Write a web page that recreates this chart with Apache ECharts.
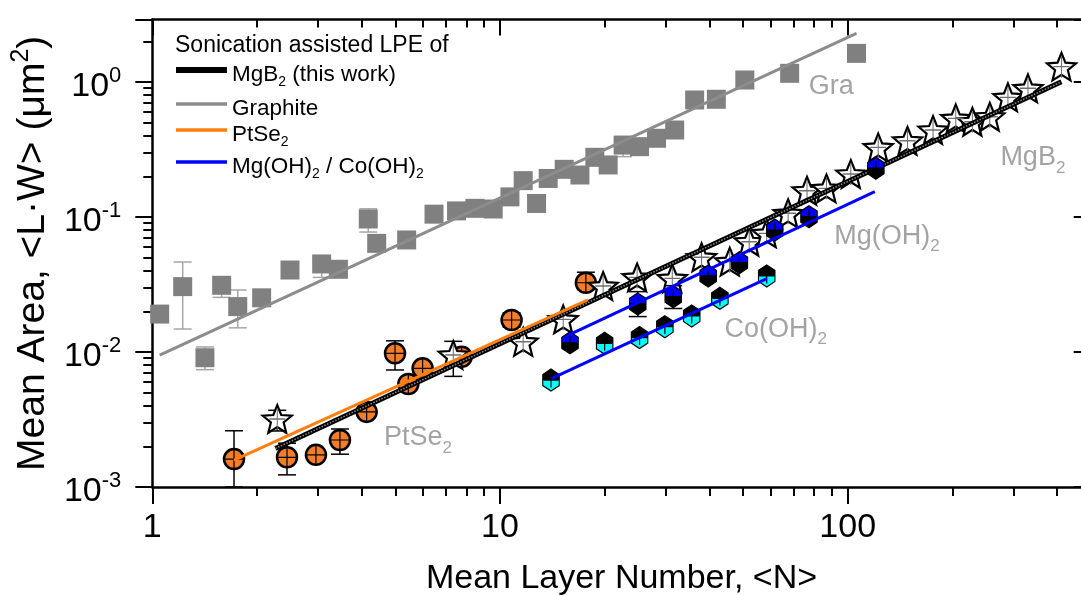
<!DOCTYPE html>
<html>
<head>
<meta charset="utf-8">
<script src="https://cdn.jsdelivr.net/npm/echarts@6.0.0/dist/echarts.min.js"></script>
<style>
  html, body { margin: 0; padding: 0; background: #fff; overflow: hidden; }
  #chart { width: 1081px; height: 595px; }
</style>
</head>
<body>
<div id="chart"></div>
<script>
// Graphite
const graX = [1.05, 1.223, 1.417, 1.583, 1.761, 2.063, 2.489, 3.07, 3.43, 4.18, 4.42, 5.39, 6.46, 7.5, 8.47, 9.56, 10.68, 11.66, 12.74, 13.76, 15.3, 16.98, 18.74, 20.47, 22.6, 25.2, 28.2, 31.8, 36.3, 41.9, 50.6, 68.1, 106];
const graY = [0.0191, 0.0305, 0.00907, 0.0312, 0.0217, 0.0252, 0.0405, 0.0449, 0.041, 0.0967, 0.0638, 0.0676, 0.105, 0.111, 0.116, 0.1146, 0.141, 0.186, 0.126, 0.193, 0.2256, 0.2047, 0.2768, 0.243, 0.341, 0.332, 0.383, 0.441, 0.736, 0.745, 1.035, 1.16, 1.63];
const graErrX = [1.223, 1.417, 1.583, 1.761, 3.07, 4.18, 22.6];
const graErrLo = [0.0148, 0.0074, 0.0254, 0.0151, 0.0357, 0.0774, 0.28];
const graErrHi = [0.0464, 0.0109, 0.034, 0.0288, 0.05, 0.115, 0.394];
const graFitX = [1.05, 106];
const graFitY = [0.0095, 2.29];

// PtSe2
const ptX = [1.718, 2.44, 2.956, 3.465, 4.135, 4.99, 5.45, 5.99, 7.76, 10.8, 17.66];
const ptY = [0.00161, 0.00166, 0.00173, 0.00223, 0.0036, 0.00978, 0.0058, 0.00757, 0.00923, 0.01726, 0.0326];
const ptErrX = [1.718, 2.44, 3.465, 4.99, 10.8, 17.66];
const ptErrLo = [0.001, 0.00123, 0.00175, 0.00736, 0.0153, 0.029];
const ptErrHi = [0.00261, 0.00211, 0.00269, 0.0121, 0.0195, 0.039];
const ptFitX = [1.718, 17.9];
const ptFitY = [0.00158, 0.0243];

// MgB2 (this work)
const mgbX = [2.288, 7.34, 11.66, 15.2, 19.8, 24.8, 31.3, 38.0, 45.8, 52.1, 58.5, 67.4, 76.4, 86.9, 102.1, 122.4, 148.6, 176, 204.6, 228.4, 256.3, 289, 330, 412];
const mgbY = [0.00319, 0.0095, 0.0119, 0.01746, 0.0308, 0.0357, 0.0351, 0.0503, 0.0467, 0.0656, 0.0757, 0.1065, 0.1566, 0.163, 0.2083, 0.328, 0.367, 0.441, 0.538, 0.508, 0.553, 0.77, 0.898, 1.30];
const mgbErrX = [2.288, 7.34];
const mgbErrLo = [0.0026, 0.0066];
const mgbErrHi = [0.0037, 0.012];
const mgbFitX = [2.26, 412];
const mgbFitY = [0.00193, 1.005];

// Mg(OH)2
const mohX = [15.9, 24.9, 31.5, 39.7, 48.8, 61.7, 77.4, 120.5];
const mohY = [0.0117, 0.0227, 0.0257, 0.0366, 0.0459, 0.080, 0.1005, 0.23];
const mohErrX = [24.9, 31.5];
const mohErrLo = [0.0183, 0.021];
const mohErrHi = [0.028, 0.031];
const mohFitX = [15.9, 119.7];
const mohFitY = [0.0135, 0.154];

// Co(OH)2
const cohX = [14.02, 20.0, 25.2, 29.8, 35.6, 42.9, 58.5];
const cohY = [0.0062, 0.0116, 0.0128, 0.0154, 0.0185, 0.025, 0.0366];
const cohFitX = [14.1, 58.5];
const cohFitY = [0.00638, 0.035];

// grey labels inside the plot
const noteText = ['Gra', 'MgB{s|2}', 'Mg(OH){s|2}', 'Co(OH){s|2}', 'PtSe{s|2}'];
const noteX = [77.05, 274, 91.2, 44.1, 4.62];
const noteY = [0.995, 0.293, 0.0768, 0.0158, 0.00247];

const FONT = '"Liberation Sans", Arial, Helvetica, sans-serif';
const GREY_TXT = '#8c8c8c';

const pairs = (xs, ys) => xs.map((x, i) => [x, ys[i]]);
const triples = (xs, lo, hi) => xs.map((x, i) => [x, lo[i], hi[i]]);

const starPath = (() => {
    let d = '';
    for (let i = 0; i < 10; i++) {
        const r = i % 2 === 0 ? 50 : 22;
        const a = -Math.PI / 2 + i * Math.PI / 5;
        d += (i ? 'L' : 'M') + (50 + r * Math.cos(a)).toFixed(2) + ',' + (50 + r * Math.sin(a)).toFixed(2);
    }
    return 'path://' + d + 'Z';
})();
const hexPath = 'path://M50,0L93.3,25L93.3,75L50,100L6.7,75L6.7,25Z';
const plusPath = 'path://M50,0L50,100M0,50L100,50';

const halfFill = (top, bottom) => new echarts.graphic.LinearGradient(0, 0, 0, 1, [
    { offset: 0, color: top }, { offset: 0.5, color: top },
    { offset: 0.5, color: bottom }, { offset: 1, color: bottom }
]);

const errSeries = (data, color, z) => ({
    type: 'custom',
    data: data,
    encode: { x: 0, y: [1, 2] },
    clip: false,
    silent: true,
    z: z,
    renderItem: (params, api) => {
        const top = api.coord([api.value(0), api.value(2)]);
        const bot = api.coord([api.value(0), api.value(1)]);
        const st = { stroke: color, lineWidth: 1.5 };
        const cap = 9;
        return {
            type: 'group',
            children: [
                { type: 'line', shape: { x1: top[0], y1: top[1], x2: bot[0], y2: bot[1] }, style: st },
                { type: 'line', shape: { x1: top[0] - cap, y1: top[1], x2: top[0] + cap, y2: top[1] }, style: st },
                { type: 'line', shape: { x1: bot[0] - cap, y1: bot[1], x2: bot[0] + cap, y2: bot[1] }, style: st }
            ]
        };
    }
});

const crossSeries = (data, size, color, z) => ({
    type: 'scatter',
    data: data,
    symbol: plusPath,
    symbolSize: size,
    silent: true,
    z: z,
    itemStyle: { color: 'transparent', borderColor: color, borderWidth: 1.2, opacity: 1 }
});

const markSeries = (data, symbol, size, z, style) => ({
    type: 'scatter',
    data: data,
    symbol: symbol,
    symbolSize: size,
    symbolKeepAspect: true,
    silent: true,
    z: z,
    itemStyle: Object.assign({ opacity: 1 }, style)
});

const fitSeries = (name, xs, ys, color, width, z, extra) => Object.assign({
    name: name,
    type: 'line',
    data: pairs(xs, ys),
    symbol: 'none',
    color: color,
    silent: true,
    z: z,
    lineStyle: { color: color, width: width }
}, extra || {});

const powLabel = (v) => {
    const e = Math.round(Math.log10(v));
    if (Math.abs(v / Math.pow(10, e) - 1) > 1e-6) return '';
    return '{b|10}{p|' + e + '}';
};
const xLabel = (v) => {
    const e = Math.round(Math.log10(v));
    if (Math.abs(v / Math.pow(10, e) - 1) > 1e-6) return '';
    return String(Math.round(v));
};

const tickLine = { color: '#000', width: 2 };
const axisLine = { show: true, onZero: false, lineStyle: { color: '#000', width: 2.5 } };

const subRich = {
    b: { fontSize: 22.5, lineHeight: 22, padding: [4, 0, 0, 0], verticalAlign: 'top', fontFamily: FONT, color: '#000' },
    u: { fontSize: 14, lineHeight: 14, padding: [16, 0, 0, 0], verticalAlign: 'top', fontFamily: FONT, color: '#000' }
};
const legendLabels = {
    'MgB2 (this work)': '{b|MgB}{u|2}{b| (this work)}',
    'Graphite': '{b|Graphite}',
    'PtSe2': '{b|PtSe}{u|2}',
    'Mg(OH)2 / Co(OH)2': '{b|Mg(OH)}{u|2}{b| / Co(OH)}{u|2}'
};
const legendItem = (name, top, h) => ({
    data: [{ name: name, icon: 'rect' }],
    left: 176,
    top: top,
    padding: 0,
    itemWidth: 51,
    itemHeight: h,
    selectedMode: false,
    formatter: (n) => legendLabels[n],
    textStyle: { fontFamily: FONT, fontSize: 22.5, color: '#000', rich: subRich }
});

const chart = echarts.init(document.getElementById('chart'), null, { renderer: 'canvas' });

const option = {
    animation: false,
    backgroundColor: '#fff',
    // the right frame sits just past the picture edge, as in the original figure
    grid: { left: 152.3, top: 19.6, width: 938.4, height: 467.4, outerBoundsMode: 'none', containLabel: false },
    title: {
        text: 'Sonication assisted LPE of',
        left: 175,
        top: 34,
        padding: 0,
        textStyle: { fontFamily: FONT, fontSize: 23, fontWeight: 'normal', color: '#000' }
    },
    legend: [
        legendItem('MgB2 (this work)', 59, 6),
        legendItem('Graphite', 93, 3.5),
        legendItem('PtSe2', 119, 3.5),
        legendItem('Mg(OH)2 / Co(OH)2', 151, 3.5)
    ],
    xAxis: [{
        type: 'log', logBase: 10, min: 1, max: 500, position: 'bottom',
        axisLine: axisLine,
        axisTick: { show: true, length: 17, lineStyle: tickLine },
        minorTick: { show: true, splitNumber: 9, length: 9, lineStyle: tickLine },
        splitLine: { show: false }, minorSplitLine: { show: false },
        axisLabel: { margin: 24, fontSize: 34, fontFamily: FONT, color: '#000', formatter: xLabel },
        name: 'Mean Layer Number, <N>', nameLocation: 'middle', nameGap: 75,
        nameTextStyle: { fontSize: 34, fontFamily: FONT, color: '#000' }
    }, {
        type: 'log', logBase: 10, min: 1, max: 500, position: 'top',
        axisLine: axisLine,
        axisTick: { show: true, inside: true, length: 16, lineStyle: tickLine },
        minorTick: { show: true, splitNumber: 9, length: 8, lineStyle: tickLine },
        splitLine: { show: false }, minorSplitLine: { show: false },
        axisLabel: { show: false }
    }],
    yAxis: [{
        type: 'log', logBase: 10, min: 0.001, max: 2.9, position: 'left',
        axisLine: axisLine,
        axisTick: { show: true, length: 17, lineStyle: tickLine },
        minorTick: { show: true, splitNumber: 9, length: 9, lineStyle: tickLine },
        splitLine: { show: false }, minorSplitLine: { show: false },
        axisLabel: {
            margin: 31, color: '#000', fontFamily: FONT, formatter: powLabel,
            rich: {
                b: { fontSize: 34, lineHeight: 34, padding: [5, 0, 0, 0], verticalAlign: 'top', fontFamily: FONT, color: '#000' },
                p: { fontSize: 22, lineHeight: 22, verticalAlign: 'top', fontFamily: FONT, color: '#000' }
            }
        },
        name: '{a|Mean Area, <L·W> (μm}{s|2}{a|)}', nameLocation: 'middle', nameGap: 96,
        nameTextStyle: {
            fontSize: 39, fontFamily: FONT, color: '#000',
            rich: {
                a: { fontSize: 39, lineHeight: 39, padding: [5, 0, 0, 0], verticalAlign: 'top', fontFamily: FONT, color: '#000' },
                s: { fontSize: 25, lineHeight: 25, verticalAlign: 'top', fontFamily: FONT, color: '#000' }
            }
        }
    }, {
        type: 'log', logBase: 10, min: 0.001, max: 2.9, position: 'right',
        axisLine: axisLine,
        axisTick: { show: true, inside: true, length: 17, lineStyle: tickLine },
        minorTick: { show: true, splitNumber: 9, length: 9, lineStyle: tickLine },
        splitLine: { show: false }, minorSplitLine: { show: false },
        axisLabel: { show: false }
    }],
    series: [
        // graphite
        errSeries(triples(graErrX, graErrLo, graErrHi), '#a6a6a6', 1),
        markSeries(pairs(graX, graY), 'rect', 19, 2, { color: '#808080' }),
        fitSeries('Graphite', graFitX, graFitY, '#8c8c8c', 3, 3),

        // PtSe2 and MgB2 markers
        errSeries(triples(ptErrX, ptErrLo, ptErrHi), '#000', 4),
        errSeries(triples(mgbErrX, mgbErrLo, mgbErrHi), '#000', 4),
        markSeries(pairs(ptX, ptY), 'circle', 20, 5, { color: '#f47d2a', borderColor: '#000', borderWidth: 2.5 }),
        crossSeries(pairs(ptX, ptY), 18, '#000', 6),
        markSeries(pairs(mgbX, mgbY), starPath, 29, 7, { color: '#fff', borderColor: '#000', borderWidth: 2.2 }),
        crossSeries(pairs(mgbX, mgbY), [16, 22], '#707070', 8),
        fitSeries('MgB2 (this work)', mgbFitX, mgbFitY, '#000', 5, 9),
        fitSeries('mgbTexture', mgbFitX, mgbFitY, '#8a8a8a', 1.5, 9.5, {
            lineStyle: { color: '#8a8a8a', width: 1.5, type: 'dotted' }
        }),
        fitSeries('PtSe2', ptFitX, ptFitY, '#ff7f0e', 3, 10),

        // hydroxides
        errSeries(triples(mohErrX, mohErrLo, mohErrHi), '#000', 11),
        markSeries(pairs(mohX, mohY), hexPath, [19, 22], 12, { color: halfFill('#0000ff', '#000'), borderColor: '#000', borderWidth: 1.2 }),
        markSeries(pairs(cohX, cohY), hexPath, [19, 22], 12, { color: halfFill('#000', '#00ffff'), borderColor: '#000', borderWidth: 1.2 }),
        crossSeries(pairs(mohX, mohY), 15, '#000', 13),
        crossSeries(pairs(cohX, cohY), 15, '#000', 13),
        fitSeries('Mg(OH)2 / Co(OH)2', mohFitX, mohFitY, '#0000ff', 3, 14),
        fitSeries('cohFit', cohFitX, cohFitY, '#0000ff', 3, 14),

        // grey annotations
        {
            type: 'scatter', z: 15, silent: true, symbolSize: 1,
            itemStyle: { color: 'transparent' },
            data: noteX.map((x, i) => ({ value: [x, noteY[i]], name: noteText[i] })),
            label: {
                show: true, position: 'right', distance: 0,
                formatter: (p) => '{n|' + p.name.replace(/\{s\|2\}/g, '}{s|2}{n|') + '}',
                rich: {
                    n: { fontSize: 27, lineHeight: 27, padding: [4, 0, 0, 0], verticalAlign: 'top', fontFamily: FONT, color: GREY_TXT },
                    s: { fontSize: 17, lineHeight: 17, padding: [19, 0, 0, 0], verticalAlign: 'top', fontFamily: FONT, color: GREY_TXT }
                }
            }
        }
    ]
};

chart.setOption(option);
</script>
</body>
</html>
